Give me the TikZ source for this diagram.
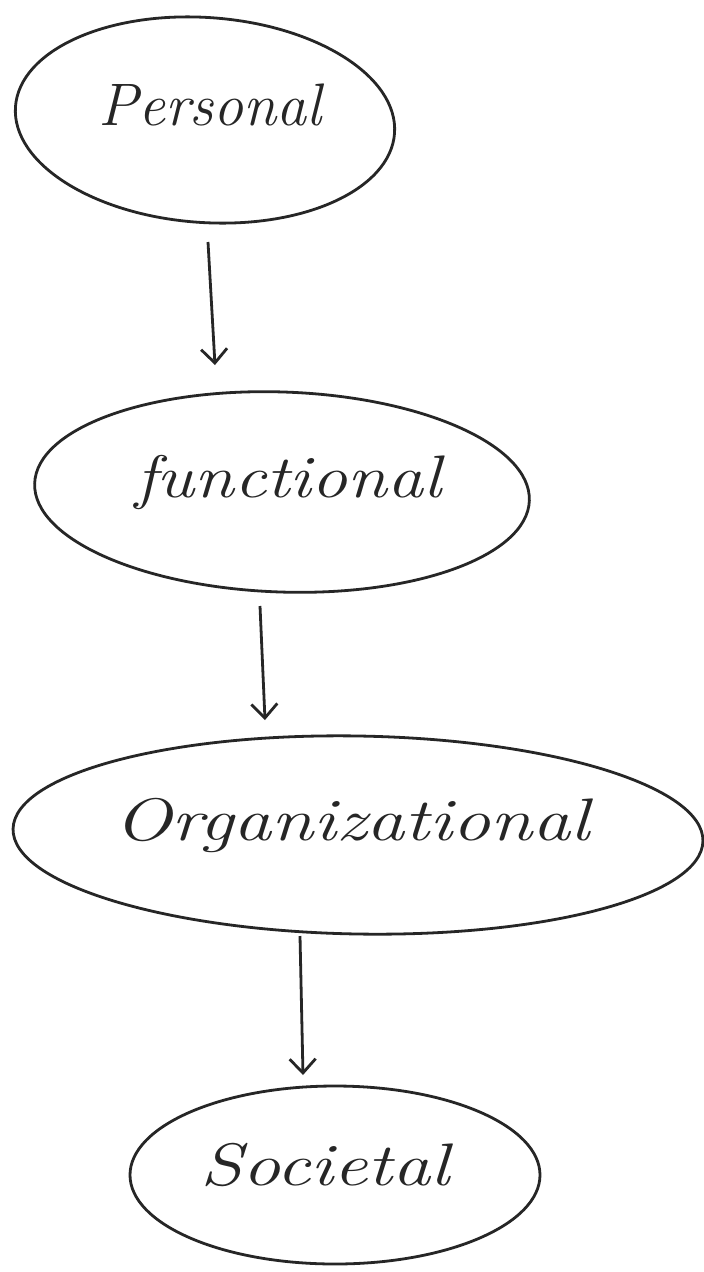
\documentclass[tikz,border=0pt]{standalone}
\usetikzlibrary{shapes.geometric,arrows.meta}
\begin{document}
\begin{tikzpicture}[x=1pt,y=-1pt,
  blob/.style={draw=black!85,line width=2.8pt,ellipse,inner sep=0pt},
  lbl/.style={font=\fontsize{60}{66}\selectfont\itshape,text=black!85},
  flow/.style={draw=black!85,line width=2.8pt,-{Straight Barb[length=14pt,width=26pt,line width=2.8pt]}}]
\useasboundingbox[fill=white] (0,0) rectangle (704,1272);
\node[blob,minimum width=380pt,minimum height=205pt,rotate=-4] (p) at (205,120) {};
\node[lbl,xscale=1.0] (pt) at (210,105) {Personal};
\node[blob,minimum width=495pt,minimum height=200pt,rotate=-2] (f) at (282,492) {};
\node[lbl,xscale=1.2] (ft) at (288,482) {functional};
\node[blob,minimum width=690pt,minimum height=198pt,rotate=-1] (o) at (358,835) {};
\node[lbl,xscale=1.27] (ot) at (352,825) {Organizational};
\node[blob,minimum width=410pt,minimum height=178pt] (s) at (335,1175) {};
\node[lbl,xscale=1.27] (st) at (325,1165) {Societal};
\coordinate (a1) at (208,242);
\coordinate (b1) at (215,365);
\coordinate (a2) at (260,606);
\coordinate (b2) at (265,720);
\coordinate (a3) at (300,936);
\coordinate (b3) at (303,1075);
\draw[flow] (a1) -- (b1);
\draw[flow] (a2) -- (b2);
\draw[flow] (a3) -- (b3);
\end{tikzpicture}
\end{document}
